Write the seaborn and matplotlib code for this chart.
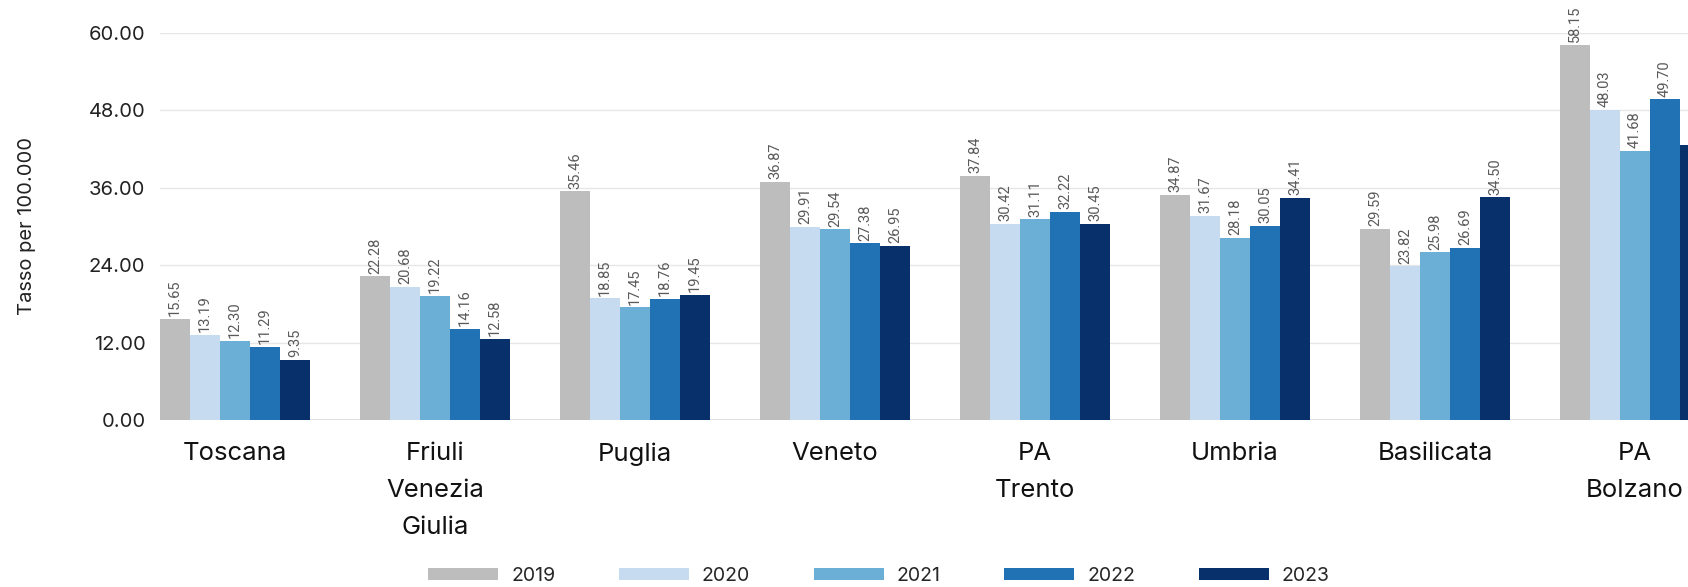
import numpy as np
import pandas as pd
import matplotlib
matplotlib.use("Agg")
import matplotlib.pyplot as plt
import seaborn as sns

# Regional rates per 100,000 inhabitants, 2019-2023
regions = ["Toscana", "Friuli\nVenezia\nGiulia", "Puglia", "Veneto", "PA\nTrento",
           "Umbria", "Basilicata", "PA\nBolzano"]
years = ["2019", "2020", "2021", "2022", "2023"]
rate_2019 = [15.65, 22.28, 35.46, 36.87, 37.84, 34.87, 29.59, 58.15]
rate_2020 = [13.19, 20.68, 18.85, 29.91, 30.42, 31.67, 23.82, 48.03]
rate_2021 = [12.30, 19.22, 17.45, 29.54, 31.11, 28.18, 25.98, 41.68]
rate_2022 = [11.29, 14.16, 18.76, 27.38, 32.22, 30.05, 26.69, 49.70]
rate_2023 = [9.35, 12.58, 19.45, 26.95, 30.45, 34.41, 34.50, 42.64]
y_ticks = [0, 12, 24, 36, 48, 60]

colors = ["#bdbdbd", "#c6dbef", "#6baed6", "#2171b5", "#08306b"]

series = [rate_2019, rate_2020, rate_2021, rate_2022, rate_2023]
df = pd.DataFrame(
    [(r, y, v) for y, vals in zip(years, series) for r, v in zip(regions, vals)],
    columns=["Regione", "Anno", "Tasso"],
)

sns.set_theme(style="white")
plt.rcParams["font.family"] = ["Inter", "DejaVu Sans"]

fig = plt.figure(figsize=(16.88, 5.87), dpi=100)
ax = fig.add_axes([160 / 1688, 1 - 420 / 587, 1 - 160 / 1688, (420 - 33) / 587])

sns.barplot(data=df, x="Regione", y="Tasso", hue="Anno", order=regions,
            hue_order=years, palette=colors, width=0.75, linewidth=0,
            saturation=1, ax=ax, legend=True)

for cont in ax.containers:
    ax.bar_label(cont, fmt="%.2f", rotation=90, padding=2, fontsize=10.5,
                 color="#5a5a5a", family="Roboto")

ax.set_ylim(0, 60)
ax.set_xlim(-0.375, 7.265)
ax.set_yticks(y_ticks)
ax.set_yticklabels([f"{t:.2f}" for t in y_ticks])
ax.grid(axis="y", color="#e6e6e6", linewidth=1)
ax.set_axisbelow(True)
for s in ax.spines.values():
    s.set_visible(False)
ax.axhline(0, color="#dcdcdc", linewidth=1.2, zorder=0.5)

ax.tick_params(axis="y", length=5, width=1, color="#d0d0d0", pad=5.5,
               labelsize=14.5, labelcolor="#222222")
ax.tick_params(axis="x", length=0, pad=16, labelsize=18.5, labelcolor="#111111")
for lbl in ax.get_xticklabels():
    lbl.set_linespacing(1.78)
    lbl.set_verticalalignment("top")

ax.set_xlabel("")
ax.set_ylabel("")
fig.text(27 / 1688, 1 - 226 / 587, "Tasso per 100.000", rotation=90,
         ha="center", va="center", fontsize=14.5, color="#222222")

handles, labels = ax.get_legend_handles_labels()
ax.get_legend().remove()
fig.legend(handles, labels, loc="center", bbox_to_anchor=(879 / 1688, 1 - 576 / 587),
           ncol=5, frameon=False, fontsize=14, handlelength=3.6, handleheight=0.62,
           handletextpad=0.67, columnspacing=3.27, borderaxespad=0, borderpad=0)

fig.savefig("out.png", dpi=100)
